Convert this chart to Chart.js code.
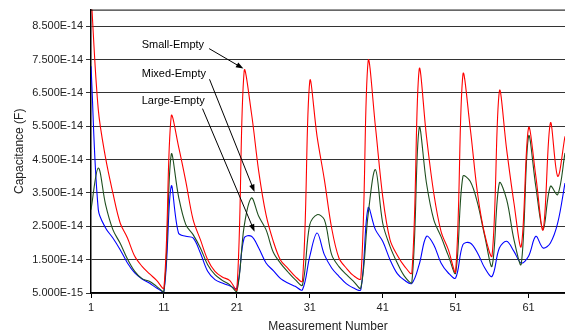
<!DOCTYPE html>
<html>
<head>
<meta charset="utf-8">
<script src="https://cdn.jsdelivr.net/npm/chart.js@4/dist/chart.umd.min.js"></script>
<style>
    html, body { margin: 0; padding: 0; background: #fff; }
    #wrap { width: 565px; height: 335px; position: relative; }
</style>
</head>
<body>
<div id="wrap"><canvas id="myChart"></canvas></div>
<script>
// values are in units of 1E-14 F
const UNIT = 1e-14;
const measurements = Array.from({ length: 66 }, (_, i) => i + 1);

const smallEmpty = [
    9.5, 6.0, 4.55, 3.5, 2.6, 2.15, 1.6, 1.3, 1.08, 0.88, 0.65,
    5.8, 4.9, 3.85, 2.7, 2.1, 1.5, 1.15, 0.98, 0.88, 0.6,
    7.15, 5.9, 4.15, 2.85, 2.05, 1.48, 1.24, 1.0, 0.86,
    6.85, 5.2, 3.9, 2.45, 1.55, 1.25, 1.02, 0.93,
    7.45, 5.5, 3.4, 2.1, 1.63, 1.3, 1.1,
    7.2, 5.2, 3.5, 2.35, 1.8, 1.15,
    7.05, 5.45, 3.5, 2.25, 1.62,
    6.55, 4.8, 3.2, 1.9,
    5.45, 4.0, 2.4,
    5.6, 4.0, 5.2
];
const mixedEmpty = [
    3.0, 4.25, 3.15, 2.4, 1.99, 1.52, 1.15, 0.93, 0.85, 0.7, 0.55,
    4.65, 3.4, 2.55, 2.25, 1.85, 1.35, 1.05, 0.88, 0.75, 0.55,
    2.5, 3.35, 2.8, 2.4, 1.72, 1.39, 1.13, 0.9, 0.74,
    2.55, 2.85, 2.7, 1.65, 1.29, 1.06, 0.85, 0.65,
    2.85, 4.2, 2.6, 1.9, 1.4, 1.0, 0.82,
    5.45, 3.8, 2.7, 2.19, 1.62, 1.1,
    4.0, 3.85, 3.2, 2.2, 1.31,
    3.8, 3.3, 2.1, 1.37,
    5.2, 3.69, 2.4,
    3.7, 3.45, 4.7
];
const largeEmpty = [
    7.3, 3.0, 2.45, 2.15, 1.8, 1.4, 1.1, 0.92, 0.8, 0.65, 0.55,
    3.7, 2.3, 2.2, 2.15, 1.7, 1.15, 0.9, 0.8, 0.72, 0.65,
    2.15, 2.2, 1.85, 1.4, 1.17, 0.93, 0.8, 0.7, 0.6,
    1.6, 2.3, 1.65, 1.25, 1.0, 0.78, 0.65, 0.6,
    3.05, 2.4, 2.05, 1.5, 1.08, 0.88, 0.79,
    1.35, 2.2, 1.95, 1.4, 1.1, 0.95,
    1.95, 2.0, 1.7, 1.25, 1.0,
    1.85, 2.05, 1.75, 1.4,
    1.6, 2.2, 1.85,
    2.0, 2.6, 3.8
];

const xTicks = [1, 11, 21, 31, 41, 51, 61];
const yTicks = [0.5, 1.5, 2.5, 3.5, 4.5, 5.5, 6.5, 7.5, 8.5];

// callout labels, in data units
const callouts = [
    { text: 'Small-Empty', tx: 7.96, ty: 7.93, x0: 17.2, y0: 7.83, x1: 21.9, y1: 7.23 },
    { text: 'Mixed-Empty', tx: 7.96, ty: 7.06, x0: 17.25, y0: 6.91, x1: 23.43, y1: 3.53 },
    { text: 'Large-Empty', tx: 7.96, ty: 6.25, x0: 16.29, y0: 6.03, x1: 23.43, y1: 2.34 }
];

function toPoints(values) {
    return values.map((v, i) => ({ x: measurements[i], y: v }));
}

const calloutPlugin = {
    id: 'callouts',
    afterDatasetsDraw(chart) {
        const { ctx, chartArea, scales: { x, y } } = chart;
        ctx.save();
        ctx.strokeStyle = '#000';
        ctx.fillStyle = '#000';
        ctx.lineWidth = 1;
        // top frame line
        ctx.beginPath();
        ctx.moveTo(chartArea.left, chartArea.top + 0.5);
        ctx.lineTo(chartArea.right, chartArea.top + 0.5);
        ctx.stroke();

        ctx.font = '11px "Liberation Sans", Arial, sans-serif';
        ctx.textBaseline = 'middle';
        ctx.textAlign = 'left';
        callouts.forEach(c => {
            ctx.fillText(c.text, x.getPixelForValue(c.tx), y.getPixelForValue(c.ty));
            const ax = x.getPixelForValue(c.x0), ay = y.getPixelForValue(c.y0);
            const bx = x.getPixelForValue(c.x1), by = y.getPixelForValue(c.y1);
            const ang = Math.atan2(by - ay, bx - ax);
            const head = 8;
            ctx.beginPath();
            ctx.moveTo(ax, ay);
            ctx.lineTo(bx - head * 0.8 * Math.cos(ang), by - head * 0.8 * Math.sin(ang));
            ctx.stroke();
            ctx.beginPath();
            ctx.moveTo(bx, by);
            ctx.lineTo(bx - head * Math.cos(ang - 0.35), by - head * Math.sin(ang - 0.35));
            ctx.lineTo(bx - head * Math.cos(ang + 0.35), by - head * Math.sin(ang + 0.35));
            ctx.closePath();
            ctx.fill();
        });
        ctx.restore();
    }
};

Chart.defaults.font.family = '"Liberation Sans", Arial, sans-serif';
Chart.defaults.color = '#222';

const ctx = document.getElementById('myChart');

const myChart = new Chart(ctx, {
    type: 'line',
    data: {
        datasets: [{
            label: 'Small-Empty',
            data: toPoints(smallEmpty),
            borderColor: '#ff0000',
            borderWidth: 1.1
        }, {
            label: 'Mixed-Empty',
            data: toPoints(mixedEmpty),
            borderColor: '#1f4f1f',
            borderWidth: 1.1
        }, {
            label: 'Large-Empty',
            data: toPoints(largeEmpty),
            borderColor: '#0000ff',
            borderWidth: 1.1
        }]
    },
    options: {
        responsive: true,
        maintainAspectRatio: false,
        animation: false,
        layout: { padding: { top: 9, right: 0, bottom: 0, left: 0 } },
        elements: {
            point: { radius: 0 },
            line: { tension: 0.35, fill: false }
        },
        plugins: {
            legend: { display: false },
            tooltip: { enabled: false }
        },
        scales: {
            x: {
                type: 'linear',
                min: 1,
                max: 66,
                afterBuildTicks: axis => { axis.ticks = xTicks.map(v => ({ value: v })); },
                afterFit: axis => { axis.height = 42; },
                ticks: { font: { size: 11 }, padding: 3, maxRotation: 0 },
                grid: { drawOnChartArea: false, drawTicks: true, tickLength: 5, color: '#000' },
                border: { color: '#000', width: 1.5 },
                title: {
                    display: true,
                    text: 'Measurement Number',
                    color: '#222',
                    font: { size: 12 },
                    padding: { top: 0, bottom: 1 }
                }
            },
            y: {
                min: 0.5,
                max: 9,
                afterBuildTicks: axis => { axis.ticks = yTicks.map(v => ({ value: v })); },
                afterFit: axis => { axis.width = 91; },
                ticks: {
                    font: { size: 11 },
                    padding: 3,
                    callback: v => (v * UNIT).toExponential(3).toUpperCase()
                },
                grid: { color: '#333', lineWidth: 1, tickLength: 5 },
                border: { color: '#000', width: 1.5 },
                title: {
                    display: true,
                    text: 'Capacitance (F)',
                    color: '#222',
                    font: { size: 12 },
                    padding: { top: 12, bottom: 0 }
                }
            }
        }
    },
    plugins: [calloutPlugin]
});
</script>
</body>
</html>
